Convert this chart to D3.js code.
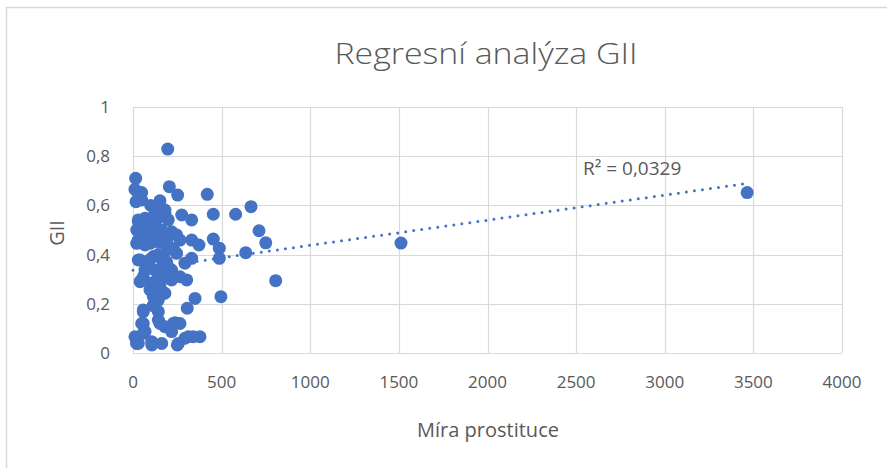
<!DOCTYPE html>
<html>
<head>
<meta charset="utf-8">
<script src="https://cdn.jsdelivr.net/npm/d3@7"></script>
<style>
  body { margin: 0; background: #fff; }
  svg { display: block; }
  text { font-family: "Open Sans", sans-serif; fill: #595959; }
</style>
</head>
<body>
<svg id="chart" width="887" height="468"></svg>
<script>
// Míra prostituce (x) vs GII (y)
const miraProstituce = [
  196, 15, 11, 49, 30, 17, 49, 205, 252, 419, 152, 180, 143, 180, 275, 331,
  453, 579, 666, 711, 749, 636, 487, 487, 453, 805, 496, 350, 306, 331, 372, 331,
  378, 340, 293, 250, 162, 106, 21, 58, 49, 58, 143, 115, 152, 30, 21, 21,
  30, 68, 77, 96, 143, 218, 265, 199, 152, 134, 190, 246, 115, 77, 171, 218,
  265, 58, 40, 96, 152, 180, 115, 162, 124, 199, 293, 30, 124, 162, 30, 105,
  190, 246, 68, 227, 40, 190, 68, 143, 49, 124, 218, 303, 96, 171, 143, 58,
  124, 58, 143, 227, 180, 68, 30, 105, 256, 312, 11, 237, 218, 1512, 3465, 265,
  96, 143, 100, 120, 60, 40, 21, 150
];
const gii = [
  0.829, 0.71, 0.665, 0.652, 0.649, 0.615, 0.622, 0.676, 0.642, 0.645, 0.619, 0.581, 0.595, 0.568, 0.561, 0.541,
  0.564, 0.564, 0.595, 0.497, 0.448, 0.408, 0.426, 0.385, 0.463, 0.294, 0.229, 0.222, 0.182, 0.385, 0.439, 0.459,
  0.066, 0.066, 0.06, 0.033, 0.039, 0.033, 0.039, 0.08, 0.12, 0.168, 0.168, 0.195, 0.12, 0.378, 0.446, 0.5,
  0.534, 0.548, 0.5, 0.446, 0.452, 0.493, 0.459, 0.541, 0.554, 0.5, 0.419, 0.405, 0.392, 0.365, 0.365, 0.337,
  0.31, 0.31, 0.29, 0.283, 0.27, 0.243, 0.229, 0.324, 0.337, 0.304, 0.365, 0.541, 0.527, 0.5, 0.459, 0.473,
  0.459, 0.48, 0.439, 0.425, 0.378, 0.371, 0.337, 0.337, 0.297, 0.29, 0.297, 0.297, 0.256, 0.243, 0.215, 0.175,
  0.188, 0.12, 0.134, 0.12, 0.107, 0.087, 0.039, 0.046, 0.039, 0.066, 0.066, 0.123, 0.087, 0.447, 0.652, 0.12,
  0.38, 0.4, 0.6, 0.56, 0.47, 0.52, 0.04, 0.31
];
const xTicks = [0, 500, 1000, 1500, 2000, 2500, 3000, 3500, 4000];
const yTicks = [0, 0.2, 0.4, 0.6, 0.8, 1];
// linear trendline as shown in the chart
const trendIntercept = 0.336;
const trendSlope = 0.000102;
const rSquared = "0,0329";

const svg = d3.select('#chart');
const blue = '#4472C4';
const grid = '#d9d9d9';

const x = d3.scaleLinear().domain([0, 4000]).range([133, 842]);
const y = d3.scaleLinear().domain([0, 1]).range([353, 107]);

// outer chart border
svg.append('rect')
  .attr('x', 6.5).attr('y', 7.5)
  .attr('width', 900).attr('height', 500)
  .attr('fill', 'none')
  .attr('stroke', grid)
  .attr('stroke-width', 1.5);

// gridlines
svg.append('g')
  .selectAll('line')
  .data(yTicks)
  .join('line')
  .attr('x1', x(0)).attr('x2', x(4000))
  .attr('y1', d => Math.round(y(d)) + 0.5)
  .attr('y2', d => Math.round(y(d)) + 0.5)
  .attr('stroke', grid)
  .attr('stroke-width', 1.2);

svg.append('g')
  .selectAll('line')
  .data(xTicks)
  .join('line')
  .attr('x1', d => Math.round(x(d)) + 0.5)
  .attr('x2', d => Math.round(x(d)) + 0.5)
  .attr('y1', y(0)).attr('y2', y(1))
  .attr('stroke', grid)
  .attr('stroke-width', 1.2);

// tick labels
svg.append('g')
  .selectAll('text')
  .data(yTicks)
  .join('text')
  .attr('x', 110)
  .attr('y', d => y(d) + 6)
  .attr('text-anchor', 'end')
  .style('font-size', '17px')
  .text(d => String(d).replace('.', ','));

svg.append('g')
  .selectAll('text')
  .data(xTicks)
  .join('text')
  .attr('x', d => x(d))
  .attr('y', 388)
  .attr('text-anchor', 'middle')
  .style('font-size', '17px')
  .text(d => d);

// points
svg.append('g')
  .selectAll('circle')
  .data(d3.zip(miraProstituce, gii))
  .join('circle')
  .attr('cx', d => x(d[0]))
  .attr('cy', d => y(d[1]))
  .attr('r', 6.5)
  .attr('fill', blue);

// trendline (dotted)
const xMax = d3.max(miraProstituce);
svg.append('line')
  .attr('x1', x(0)).attr('y1', y(trendIntercept))
  .attr('x2', x(xMax)).attr('y2', y(trendIntercept + trendSlope * xMax))
  .attr('stroke', blue)
  .attr('stroke-width', 3)
  .attr('stroke-linecap', 'round')
  .attr('stroke-dasharray', '0 8.1');

// R² label
svg.append('text')
  .attr('x', 583)
  .attr('y', 175)
  .style('font-size', '19px')
  .text('R² = ' + rSquared);

// title
svg.append('text')
  .attr('x', 486)
  .attr('y', 64)
  .attr('text-anchor', 'middle')
  .attr('textLength', 303)
  .attr('lengthAdjust', 'spacingAndGlyphs')
  .style('font-size', '29px')
  .style('font-weight', 300)
  .text('Regresní analýza GII');

// axis titles
svg.append('text')
  .attr('x', 488)
  .attr('y', 437)
  .attr('text-anchor', 'middle')
  .style('font-size', '20px')
  .text('Míra prostituce');

svg.append('text')
  .attr('transform', 'translate(64, 233) rotate(-90)')
  .attr('text-anchor', 'middle')
  .style('font-size', '20px')
  .text('GII');
</script>
</body>
</html>
